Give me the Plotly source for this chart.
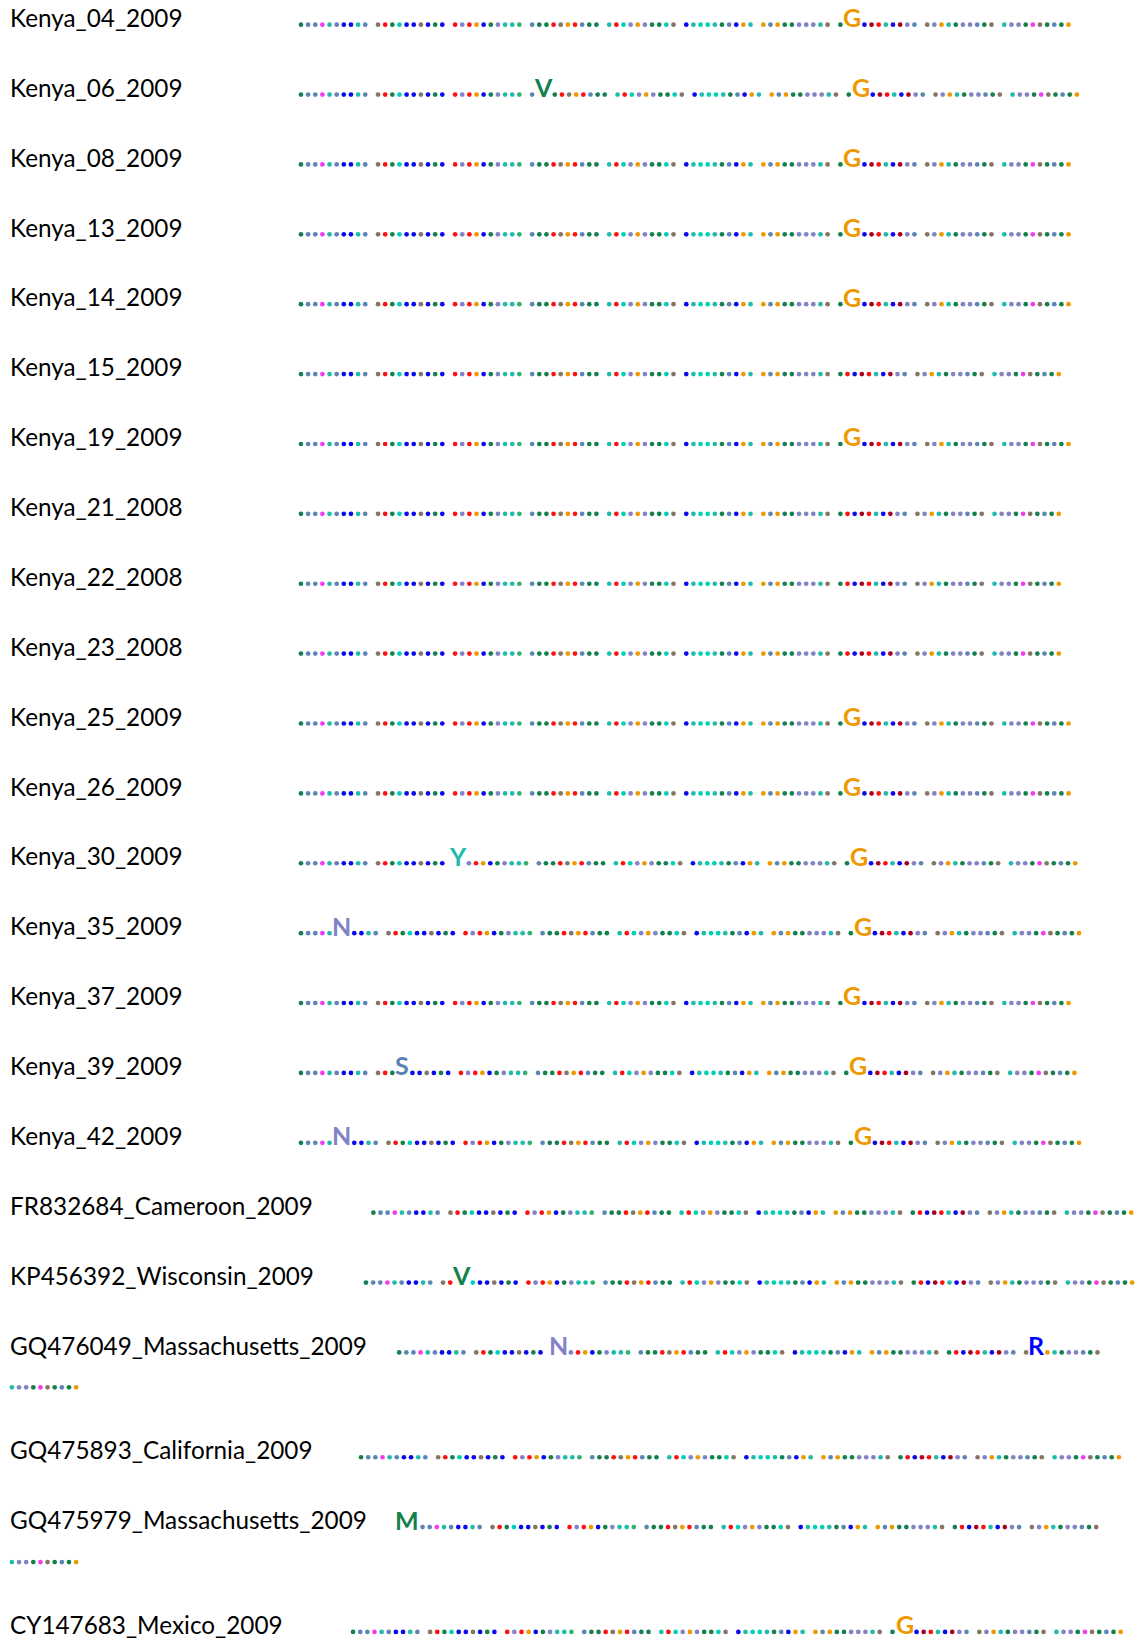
import plotly.graph_objects as go

# ---------------- DATA ----------------
samples = [
    "Kenya_04_2009", "Kenya_06_2009", "Kenya_08_2009", "Kenya_13_2009",
    "Kenya_14_2009", "Kenya_15_2009", "Kenya_19_2009", "Kenya_21_2008",
    "Kenya_22_2008", "Kenya_23_2008", "Kenya_25_2009", "Kenya_26_2009",
    "Kenya_30_2009", "Kenya_35_2009", "Kenya_37_2009", "Kenya_39_2009",
    "Kenya_42_2009", "FR832684_Cameroon_2009", "KP456392_Wisconsin_2009",
    "GQ476049_Massachusetts_2009", "GQ475893_California_2009",
    "GQ475979_Massachusetts_2009", "CY147683_Mexico_2009",
]

# colour class of the reference residue at each of the 100 aligned positions
# (10 blocks of 10)
reference_blocks = [
    "gssmtsbbts", "yrgcbbybgb", "rlrobgltte", "sggryorsgg", "trclolggcy",
    "btcctgsbot", "osoggllltx", "grbdrtbdls", "ylotgllsgy", "tllgmygsgo",
]

# substitutions per sample: (1-based position, residue)
mutations = [
    [(72, "G")], [(32, "V"), (72, "G")], [(72, "G")], [(72, "G")],
    [(72, "G")], [], [(72, "G")], [],
    [], [], [(72, "G")], [(72, "G")],
    [(21, "Y"), (72, "G")], [(6, "N"), (72, "G")], [(72, "G")], [(14, "S"), (72, "G")],
    [(6, "N"), (72, "G")], [], [(13, "V")],
    [(21, "N"), (82, "R")], [],
    [(1, "M")], [(72, "G")],
]

# ---------------- STYLE / LAYOUT ----------------
W, H = 1144, 1638
LINE_H = 34.94
ROW_H = 2 * LINE_H
Y0 = 24.7
DOT_ADV = 7.14
SPACE_ADV = 5.66
LEFT = 8.3
WRAP_RIGHT = 1142
row_indent = [297.4] * 17 + [369.8, 362.4, 395.6, 357.5, 395.6, 349.5]

class_colors = {
    "g": "#13804e", "s": "#5b85b5", "m": "#f23cf2", "t": "#1fbcac",
    "c": "#00d0b8", "b": "#0808f0", "y": "#857565", "x": "#857565",
    "r": "#ff1010", "l": "#8282c6", "o": "#ee9900", "d": "#a80022",
    "e": "#33b070",
}
residue_colors = {
    "G": "#ee9900", "V": "#13804e", "N": "#8282c6", "S": "#5a82b4",
    "Y": "#1fbcac", "R": "#0000ff", "M": "#13804e",
}
letter_adv = {"G": 16.9, "V": 15.5, "N": 17.6, "S": 13.0, "Y": 13.8, "R": 14.2, "M": 23.4}

ref_classes = "".join(reference_blocks)

dot_x, dot_y, dot_c = [], [], []
annotations = []
extra_lines = 0
for i, name in enumerate(samples):
    y = Y0 + i * ROW_H + extra_lines * LINE_H
    annotations.append(dict(
        x=LEFT, y=y - 7.3, xref="x", yref="y", text=name, showarrow=False,
        xanchor="left", yanchor="middle",
        font=dict(family="Lato", size=24.3, color="#000000"),
    ))
    muts = dict(mutations[i])
    x = row_indent[i]
    for b in range(10):
        positions = list(range(b * 10 + 1, b * 10 + 11))
        advs = [letter_adv[muts[p]] if p in muts else DOT_ADV for p in positions]
        if b > 0:
            x += SPACE_ADV
        if x + sum(advs) > WRAP_RIGHT:
            extra_lines += 1
            y += LINE_H
            x = LEFT
        for p, a in zip(positions, advs):
            cx = x + a / 2
            if p in muts:
                aa = muts[p]
                annotations.append(dict(
                    x=cx, y=y - 7.6, xref="x", yref="y", text=aa, showarrow=False,
                    xanchor="center", yanchor="middle",
                    font=dict(family="Lato", size=25, weight=700, color=residue_colors[aa]),
                ))
            else:
                dot_x.append(cx)
                dot_y.append(y)
                dot_c.append(class_colors[ref_classes[p - 1]])
            x += a

fig = go.Figure()
fig.add_trace(go.Scatter(
    x=dot_x, y=dot_y, mode="markers",
    marker=dict(size=4.7, color=dot_c, symbol="circle", line=dict(width=0)),
    hoverinfo="skip", showlegend=False,
))
fig.update_layout(
    width=W, height=H, margin=dict(l=0, r=0, t=0, b=0),
    paper_bgcolor="white", plot_bgcolor="white",
    xaxis=dict(range=[0, W], visible=False, fixedrange=True),
    yaxis=dict(range=[H, 0], visible=False, fixedrange=True),
    annotations=annotations, showlegend=False,
)
fig.write_html("out.html", config={"displayModeBar": False})
